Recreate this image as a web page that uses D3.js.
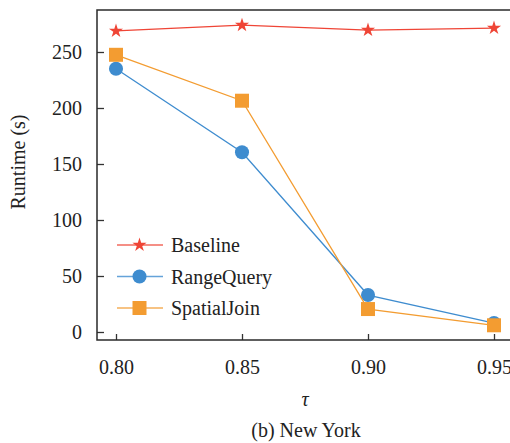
<!DOCTYPE html>
<html>
<head>
<meta charset="utf-8">
<script src="https://cdn.jsdelivr.net/npm/d3@7"></script>
<style>
  body { margin: 0; background: #fff; }
</style>
</head>
<body>
<div id="chart"></div>
<script>
// data
var taus = [0.80, 0.85, 0.90, 0.95];
var baseline = [268.8, 274, 269.6, 271.4];
var rangeQuery = [235, 160.5, 33, 8];
var spatialJoin = [247.5, 206.5, 20.5, 6];
var yTicks = [0, 50, 100, 150, 200, 250];
var seriesNames = ["Baseline", "RangeQuery", "SpatialJoin"];

var FONT = "Liberation Serif";
var width = 510, height = 443;
// plot box (right side runs off the picture)
var box = {left: 97, top: 10, right: 525, bottom: 340};

var x = d3.scaleLinear().domain([0.80, 0.95]).range([116, 494]);
var y = d3.scaleLinear().domain([0, 250]).range([332, 52]);

var series = [
  {name: seriesNames[0], vals: baseline, color: "#ef4536", sym: d3.symbolStar, size: 62},
  {name: seriesNames[1], vals: rangeQuery, color: "#3e8ccf", sym: d3.symbolCircle, size: 155},
  {name: seriesNames[2], vals: spatialJoin, color: "#f39c31", sym: d3.symbolSquare, size: 196}
];

var svg = d3.select("#chart").append("svg")
  .attr("width", width)
  .attr("height", height)
  .attr("font-family", FONT);

// lines + markers
var line = d3.line().x(function(d, i) { return x(taus[i]); }).y(function(d) { return y(d); });
series.forEach(function(s) {
  svg.append("path")
    .datum(s.vals)
    .attr("d", line)
    .attr("fill", "none")
    .attr("stroke", s.color)
    .attr("stroke-width", 1.3);
  svg.selectAll(null)
    .data(s.vals)
    .enter()
    .append("path")
    .attr("transform", function(d, i) { return "translate(" + x(taus[i]) + "," + y(d) + ")"; })
    .attr("d", d3.symbol().type(s.sym).size(s.size))
    .attr("fill", s.color);
});

// axes, ticks inward
var xAxis = d3.axisBottom(x).tickValues(taus).tickSizeInner(-6).tickSizeOuter(0)
  .tickPadding(20).tickFormat(d3.format(".2f"));
var yAxis = d3.axisLeft(y).tickValues(yTicks).tickSizeInner(-7).tickSizeOuter(0)
  .tickPadding(15);

var gx = svg.append("g").attr("transform", "translate(0," + box.bottom + ")").call(xAxis);
var gy = svg.append("g").attr("transform", "translate(" + box.left + ",0)").call(yAxis);
[gx, gy].forEach(function(g) {
  g.attr("font-family", FONT).attr("font-size", 20);
  g.select(".domain").remove();
  g.selectAll(".tick line").attr("stroke", "#333").attr("stroke-width", 1.3);
  g.selectAll(".tick text").attr("fill", "#222");
});

// frame: left, bottom, top
svg.append("path")
  .attr("d", "M" + box.right + "," + box.top + "H" + box.left + "V" + box.bottom + "H" + box.right)
  .attr("fill", "none")
  .attr("stroke", "#2a2a2a")
  .attr("stroke-width", 1.5);

// axis titles
svg.append("text")
  .attr("transform", "translate(25,162) rotate(-90)")
  .attr("text-anchor", "middle")
  .attr("font-size", 20)
  .attr("fill", "#222")
  .text("Runtime (s)");

svg.append("text")
  .attr("x", 305).attr("y", 406)
  .attr("text-anchor", "middle")
  .attr("font-size", 20)
  .attr("font-style", "italic")
  .attr("fill", "#222")
  .text("τ");

svg.append("text")
  .attr("x", 306).attr("y", 437)
  .attr("text-anchor", "middle")
  .attr("font-size", 20)
  .attr("fill", "#222")
  .text("(b) New York");

// legend
var leg = svg.append("g");
series.forEach(function(s, i) {
  var ly = 245 + i * 31.5;
  leg.append("line")
    .attr("x1", 117).attr("x2", 163).attr("y1", ly).attr("y2", ly)
    .attr("stroke", s.color).attr("stroke-opacity", 0.8).attr("stroke-width", 1.3);
  leg.append("path")
    .attr("transform", "translate(139.5," + ly + ")")
    .attr("d", d3.symbol().type(s.sym).size(s.size))
    .attr("fill", s.color);
  leg.append("text")
    .attr("x", 171).attr("y", ly + 7)
    .attr("font-size", 20)
    .attr("fill", "#222")
    .text(s.name);
});
</script>
</body>
</html>
